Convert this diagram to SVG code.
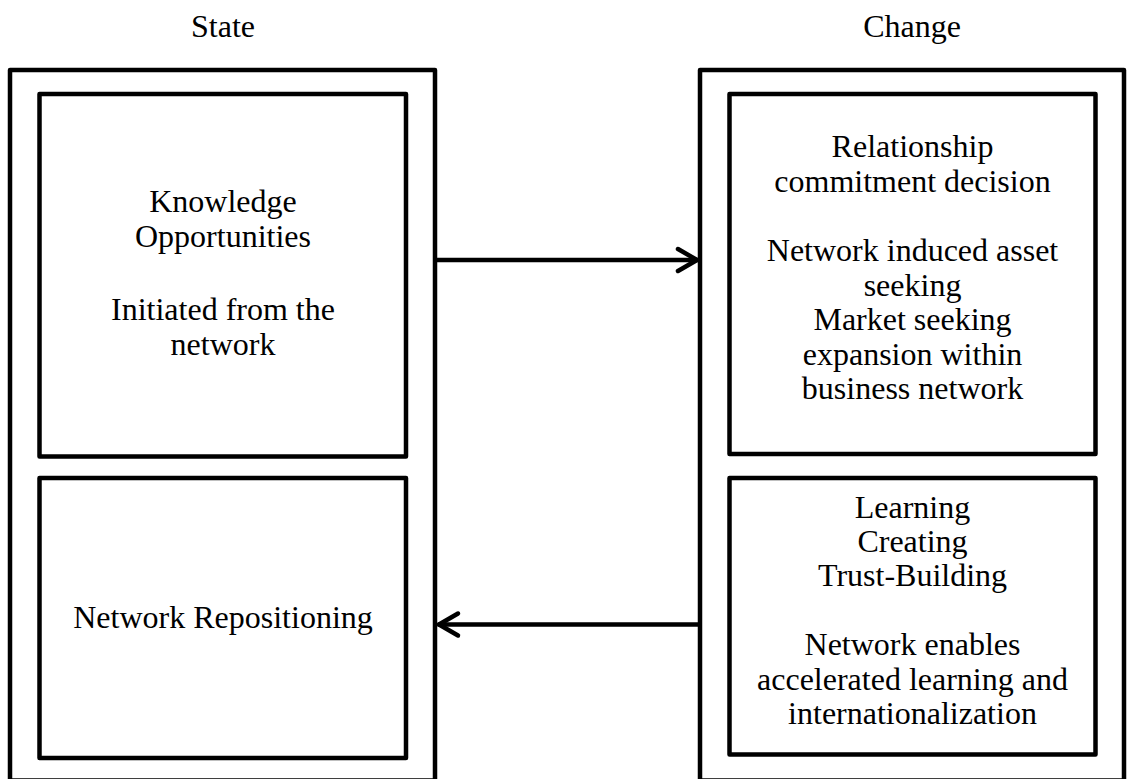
<svg xmlns="http://www.w3.org/2000/svg" width="1128" height="779" viewBox="0 0 1128 779">
<style>
.box{fill:none;stroke:#000;stroke-width:4.5;stroke-linejoin:round}
.t{font-family:"Liberation Serif","Times New Roman",serif;font-size:32px;fill:#000;text-anchor:middle}
.conn{fill:none;stroke:#000;stroke-width:4.5;stroke-linecap:round;stroke-linejoin:round}
</style>
<rect width="1128" height="779" fill="#fff"/>
<g id="state">
<text class="t" x="223" y="37">State</text>
<rect class="box" x="10" y="70" width="425" height="710.5"/>
</g>
<g id="change">
<text class="t" x="912" y="37">Change</text>
<rect class="box" x="700" y="70" width="424" height="710.5"/>
</g>
<g id="knowledge">
<rect class="box" x="39.5" y="94" width="366.5" height="362.5"/>
<text class="t" x="223" y="212">Knowledge</text>
<text class="t" x="223" y="246.5">Opportunities</text>
<text class="t" x="223" y="320">Initiated from the</text>
<text class="t" x="223" y="354.5">network</text>
</g>
<g id="repositioning">
<rect class="box" x="39.5" y="478" width="366.5" height="280"/>
<text class="t" x="223" y="628">Network Repositioning</text>
</g>
<g id="commitment">
<rect class="box" x="729.5" y="94" width="366" height="360"/>
<text class="t" x="912.5" y="157">Relationship</text>
<text class="t" x="912.5" y="191.5">commitment decision</text>
<text class="t" x="912.5" y="261">Network induced asset</text>
<text class="t" x="912.5" y="295.5">seeking</text>
<text class="t" x="912.5" y="330">Market seeking</text>
<text class="t" x="912.5" y="364.5">expansion within</text>
<text class="t" x="912.5" y="399">business network</text>
</g>
<g id="learning">
<rect class="box" x="729.5" y="478" width="366" height="276.5"/>
<text class="t" x="912.5" y="518">Learning</text>
<text class="t" x="912.5" y="552">Creating</text>
<text class="t" x="912.5" y="586">Trust-Building</text>
<text class="t" x="912.5" y="655">Network enables</text>
<text class="t" x="912.5" y="689.5">accelerated learning and</text>
<text class="t" x="912.5" y="723.5">internationalization</text>
</g>
<g id="connectors">
<line class="conn" x1="437" y1="260" x2="697" y2="260"/>
<polyline class="conn" points="678,249 697,260 678,271"/>
<line class="conn" x1="698" y1="624.5" x2="439" y2="624.5"/>
<polyline class="conn" points="458,613.5 439,624.5 458,635.5"/>
</g>
</svg>
